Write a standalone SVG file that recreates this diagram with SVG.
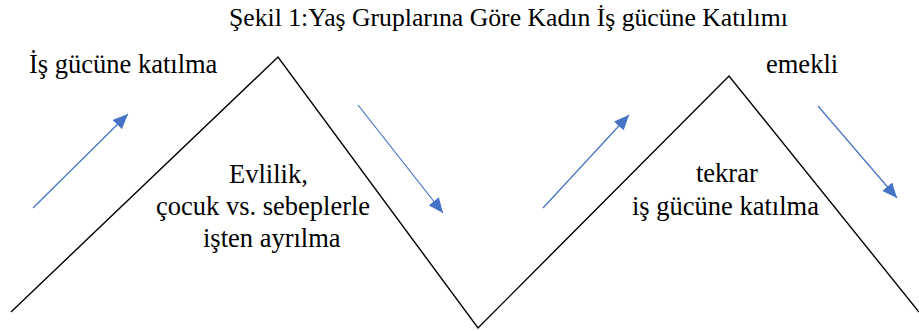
<svg xmlns="http://www.w3.org/2000/svg" width="919" height="331" viewBox="0 0 919 331">
<style>
.t{font-family:'Liberation Serif',serif;fill:#000;font-size:26.5px}
.title{font-family:'Liberation Serif',serif;fill:#000;font-size:25.7px}
.zig{fill:none;stroke:#000;stroke-width:1.4}
.arr{stroke:#4472C4;stroke-width:1.2;fill:none}
</style>
<defs>
<marker id="ah" markerUnits="userSpaceOnUse" markerWidth="16" markerHeight="13" refX="15" refY="6.5" orient="auto">
<path d="M0,0 L15,6.5 L0,13 z" fill="#4472C4"/>
</marker>
</defs>
<rect width="919" height="331" fill="#fff"/>
<g id="title"><text class="title" x="229" y="26">Şekil 1:Yaş Gruplarına Göre Kadın İş gücüne Katılımı</text></g>
<g id="zigzag"><polyline class="zig" points="11,312 278,57 478,328 729,76 919,312"/></g>
<g id="connectors">
<line class="arr" x1="33" y1="208" x2="128" y2="114" marker-end="url(#ah)"/>
<line class="arr" x1="358" y1="105" x2="443" y2="213" marker-end="url(#ah)"/>
<line class="arr" x1="543" y1="208" x2="629" y2="115" marker-end="url(#ah)"/>
<line class="arr" x1="818" y1="106" x2="897" y2="198" marker-end="url(#ah)"/>
</g>
<g id="label-katilma"><text class="t" x="29" y="73">İş gücüne katılma</text></g>
<g id="label-emekli"><text class="t" x="766" y="73">emekli</text></g>
<g id="label-evlilik">
<text class="t" x="229" y="183">Evlilik,</text>
<text class="t" x="156" y="215">çocuk vs. sebeplerle</text>
<text class="t" x="203" y="247">işten ayrılma</text>
</g>
<g id="label-tekrar">
<text class="t" x="696" y="182">tekrar</text>
<text class="t" x="632" y="215">iş gücüne katılma</text>
</g>
</svg>
